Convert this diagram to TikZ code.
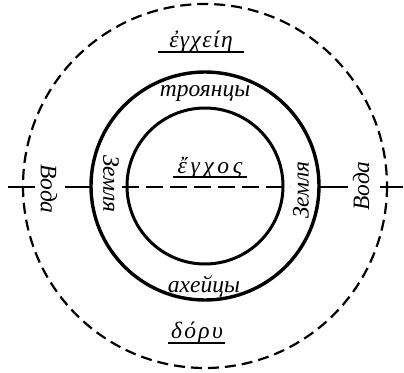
\documentclass[tikz,border=0pt]{standalone}
\usepackage{fontspec}
\setmainfont{Liberation Serif}
\begin{document}
\begin{tikzpicture}[x=1pt,y=-1pt,
  lbl/.style={font=\itshape\fontsize{23.5}{25}\selectfont, inner sep=0pt},
  axisline/.style={line width=1.2pt},
  uline/.style={line width=1.5pt}]
\useasboundingbox (0,0) rectangle (404,372);
\coordinate (c) at (205,186);
% circles
\draw[line width=2.2pt, dash pattern=on 11pt off 6pt] (c) circle (182);
\draw[line width=3.4pt] (c) circle (114);
\draw[line width=3pt] (c) circle (78);
% horizontal axis
\coordinate (a1) at (8,187);   \coordinate (a2) at (35,187);
\coordinate (b1) at (65,187);  \coordinate (b2) at (91,187);
\coordinate (d1) at (122,187); \coordinate (d2) at (290,187);
\coordinate (e1) at (320,187); \coordinate (e2) at (348,187);
\coordinate (f1) at (380,187); \coordinate (f2) at (403,187);
\draw[axisline] (a1) -- (a2);
\draw[axisline] (b1) -- (b2);
\draw[axisline, dash pattern=on 17pt off 7pt] (d1) -- (d2);
\draw[axisline] (e1) -- (e2);
\draw[axisline] (f1) -- (f2);
% labels
\node[lbl, anchor=base] (enchein) at (201,47) {\addfontfeature{LetterSpace=6}ἐγχείη};
\draw[uline] (158,52) -- (244,52);
\node[lbl, anchor=base] (troy) at (205,96) {троянцы};
\node[lbl, anchor=base] (enchos) at (210,173) {\addfontfeature{LetterSpace=16}ἔγχος};
\draw[uline] (173,177) -- (247,177);
\node[lbl, rotate=-90] (zl) at (111,184) {Земля};
\node[lbl, rotate=90] (zr) at (301,190) {Земля};
\node[lbl, rotate=-90] (vl) at (49,189) {Вода};
\node[lbl, rotate=90] (vr) at (361,186) {Вода};
\node[lbl, anchor=base] (ach) at (204,292) {ахейцы};
\node[lbl, anchor=base] (doru) at (197,338) {\addfontfeature{LetterSpace=10}δόρυ};
\draw[uline] (168,343) -- (225,343);
\end{tikzpicture}
\end{document}
